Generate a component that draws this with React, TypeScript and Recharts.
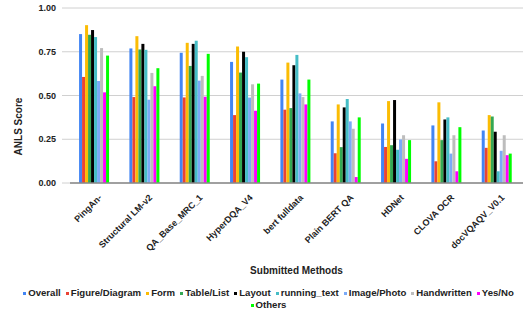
import { BarChart, Bar, XAxis, YAxis, CartesianGrid, Legend } from "recharts";

const methods = [
  "PingAn-",
  "Structural LM-v2",
  "QA_Base_MRC_1",
  "HyperDQA_V4",
  "bert fulldata",
  "Plain BERT QA",
  "HDNet",
  "CLOVA OCR",
  "docVQAQV_V0.1",
];
const overall = [0.851, 0.769, 0.744, 0.692, 0.591, 0.352, 0.34, 0.329, 0.3];
const figureDiagram = [0.606, 0.491, 0.489, 0.388, 0.419, 0.17, 0.206, 0.124, 0.201];
const form = [0.902, 0.839, 0.801, 0.78, 0.688, 0.449, 0.468, 0.461, 0.388];
const tableList = [0.847, 0.763, 0.669, 0.631, 0.428, 0.205, 0.216, 0.245, 0.38];
const layout = [0.874, 0.795, 0.795, 0.75, 0.673, 0.432, 0.474, 0.363, 0.293];
const runningText = [0.834, 0.761, 0.813, 0.719, 0.732, 0.48, 0.19, 0.375, 0.067];
const imagePhoto = [0.583, 0.476, 0.585, 0.488, 0.512, 0.352, 0.249, 0.168, 0.184];
const handwritten = [0.771, 0.629, 0.612, 0.564, 0.491, 0.31, 0.273, 0.273, 0.273];
const yesNo = [0.518, 0.553, 0.493, 0.413, 0.449, 0.034, 0.138, 0.067, 0.159];
const others = [0.728, 0.656, 0.738, 0.568, 0.591, 0.375, 0.245, 0.319, 0.168];
const yTicks = [0, 0.25, 0.5, 0.75, 1];

const series = [
  { key: "overall", name: "Overall", color: "#4285f4", values: overall },
  { key: "figure", name: "Figure/Diagram", color: "#ea4335", values: figureDiagram },
  { key: "form", name: "Form", color: "#fbbc04", values: form },
  { key: "table", name: "Table/List", color: "#34a853", values: tableList },
  { key: "layout", name: "Layout", color: "#000000", values: layout },
  { key: "running", name: "running_text", color: "#46bdc6", values: runningText },
  { key: "image", name: "Image/Photo", color: "#7baaf7", values: imagePhoto },
  { key: "handwritten", name: "Handwritten", color: "#bdbdbd", values: handwritten },
  { key: "yesno", name: "Yes/No", color: "#ff00ff", values: yesNo },
  { key: "others", name: "Others", color: "#00ff00", values: others },
];

const data = methods.map((m, i) => {
  const row: Record<string, string | number> = { method: m };
  series.forEach((s) => (row[s.key] = s.values[i]));
  return row;
});

const FONT = '"Liberation Sans", Arial, sans-serif';

const MethodTick = ({ x, y, payload }: any) => (
  <g transform={`translate(${x + 5},${y + 5})`}>
    <text
      textAnchor="end"
      transform="rotate(-45)"
      dy="0.35em"
      fontSize={9}
      fontWeight="bold"
      fontFamily={FONT}
      fill="#222"
    >
      {payload.value}
    </text>
  </g>
);

// legend is a little right of centre in the original
const LegendBox = () => (
  <div
    style={{
      display: "flex",
      flexWrap: "wrap",
      justifyContent: "center",
      width: 510,
      height: 24,
      marginLeft: 16,
      fontFamily: FONT,
      fontSize: 9.6,
      fontWeight: "bold",
      lineHeight: "12px",
      color: "#222",
    }}
  >
    {series.map((s) => (
      <span key={s.key} style={{ marginRight: 5, whiteSpace: "nowrap" }}>
        <span
          style={{
            display: "inline-block",
            width: 3,
            height: 3,
            background: s.color,
            marginRight: 2,
            verticalAlign: "middle",
          }}
        />
        {s.name}
      </span>
    ))}
  </div>
);

export default function App() {
  return (
    <div style={{ position: "absolute", left: 0, top: 0, background: "#fff" }}>
      <BarChart
        width={524}
        height={316}
        data={data}
        margin={{ top: 8, right: 1, left: 0, bottom: 5 }}
        barCategoryGap="18%"
        barGap={0}
      >
        <CartesianGrid vertical={false} stroke="#d0d0d0" />
        <XAxis
          dataKey="method"
          height={104}
          interval={0}
          tickLine={false}
          axisLine={{ stroke: "#888", strokeWidth: 1.5 }}
          tick={<MethodTick />}
          label={{
            value: "Submitted Methods",
            position: "insideBottom",
            offset: 13,
            fontSize: 10,
            fontWeight: "bold",
            fontFamily: FONT,
            fill: "#222",
          }}
        />
        <YAxis
          width={70}
          domain={[0, 1]}
          ticks={yTicks}
          tickFormatter={(v: number) => v.toFixed(2)}
          axisLine={false}
          tickLine={{ stroke: "#d0d0d0" }}
          tickSize={8}
          tickMargin={6}
          tick={{ fontSize: 9, fontWeight: "bold", fontFamily: FONT, fill: "#222" }}
          label={(props: any) => {
            const vb = props.viewBox;
            const cx = vb.x + 18;
            const cy = vb.y + vb.height / 2 + 31;
            return (
              <text
                x={cx}
                y={cy}
                transform={`rotate(-90, ${cx}, ${cy})`}
                textAnchor="middle"
                dominantBaseline="central"
                fontSize={10}
                fontWeight="bold"
                fontFamily={FONT}
                fill="#222"
              >
                ANLS Score
              </text>
            );
          }}
        />
        <Legend verticalAlign="bottom" content={<LegendBox />} />
        {series.map((s) => (
          <Bar key={s.key} dataKey={s.key} name={s.name} fill={s.color} isAnimationActive={false} />
        ))}
      </BarChart>
    </div>
  );
}
